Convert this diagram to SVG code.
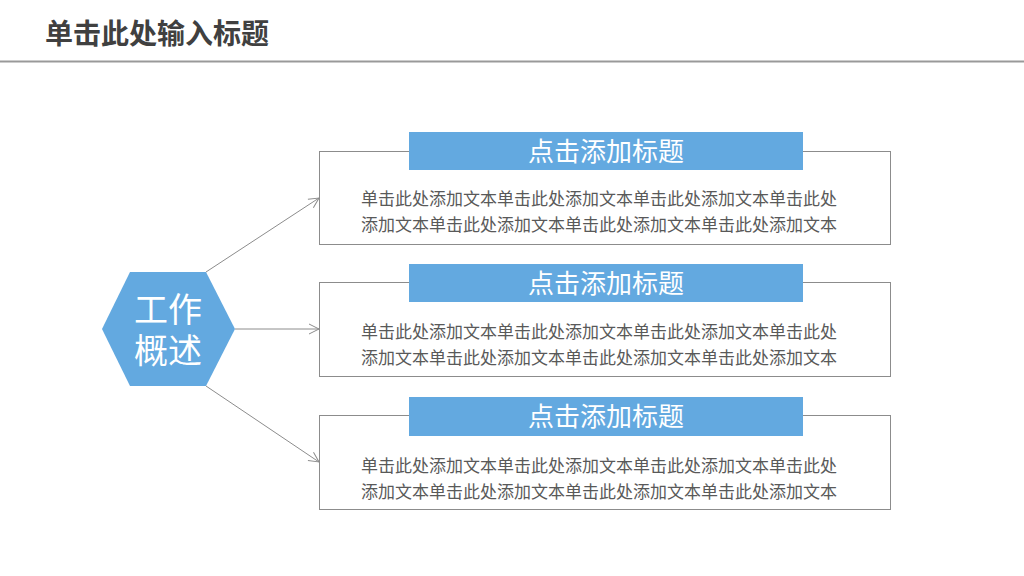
<svg xmlns="http://www.w3.org/2000/svg" width="1024" height="576" viewBox="0 0 1024 576">
<defs>
<style>
.hdr{font-family:"Noto Sans CJK SC","Liberation Sans",sans-serif;font-weight:bold;font-size:28px;fill:#404040}
.box{fill:#fff;stroke:#8c8c8c;stroke-width:1}
.tbar{fill:#63a9e0}
.ttl{font-family:"Noto Sans CJK SC","Liberation Sans",sans-serif;font-size:26px;fill:#fff;text-anchor:middle}
.body{font-family:"Noto Sans CJK SC","Liberation Sans",sans-serif;font-size:17px;fill:#595959;text-anchor:middle}
.hex{font-family:"Noto Sans CJK SC","Liberation Sans",sans-serif;font-size:34px;fill:#fff;text-anchor:middle}
.conn{stroke:#8c8c8c;stroke-width:1;fill:none;marker-end:url(#arr)}
</style>
<marker id="arr" viewBox="0 0 12 12" refX="11" refY="6" markerWidth="12" markerHeight="12" markerUnits="userSpaceOnUse" orient="auto">
<path d="M1,1 L11,6 L1,11" fill="none" stroke="#8c8c8c" stroke-width="1"/>
</marker>
</defs>
<rect width="1024" height="576" fill="#fff"/>
<g id="header">
<text class="hdr" x="45" y="44">单击此处输入标题</text>
<line x1="0" y1="61.5" x2="1024" y2="61.5" stroke="#999" stroke-width="2"/>
</g>
<g id="connectors">
<line class="conn" x1="206" y1="272" x2="319" y2="198"/>
<line class="conn" x1="235" y1="329" x2="319" y2="329"/>
<line class="conn" x1="206" y1="386" x2="319" y2="462"/>
</g>
<g id="hub">
<polygon points="102,329 130,272 206,272 235,329 206,386 130,386" fill="#63a9e0"/>
<text class="hex"><tspan x="168" y="322">工作</tspan><tspan x="168" y="363">概述</tspan></text>
</g>
<g id="item1">
<rect class="box" x="319.5" y="151.5" width="571" height="93"/>
<rect class="tbar" x="409" y="132" width="394" height="38"/>
<text class="ttl" x="606" y="161">点击添加标题</text>
<text class="body" x="599" y="205">单击此处添加文本单击此处添加文本单击此处添加文本单击此处</text>
<text class="body" x="599" y="231">添加文本单击此处添加文本单击此处添加文本单击此处添加文本</text>
</g>
<g id="item2">
<rect class="box" x="319.5" y="282.5" width="571" height="94"/>
<rect class="tbar" x="409" y="264" width="394" height="38"/>
<text class="ttl" x="606" y="293">点击添加标题</text>
<text class="body" x="599" y="338">单击此处添加文本单击此处添加文本单击此处添加文本单击此处</text>
<text class="body" x="599" y="364">添加文本单击此处添加文本单击此处添加文本单击此处添加文本</text>
</g>
<g id="item3">
<rect class="box" x="319.5" y="415.5" width="571" height="94"/>
<rect class="tbar" x="409" y="397" width="394" height="39"/>
<text class="ttl" x="606" y="426">点击添加标题</text>
<text class="body" x="599" y="472">单击此处添加文本单击此处添加文本单击此处添加文本单击此处</text>
<text class="body" x="599" y="498">添加文本单击此处添加文本单击此处添加文本单击此处添加文本</text>
</g>
</svg>
